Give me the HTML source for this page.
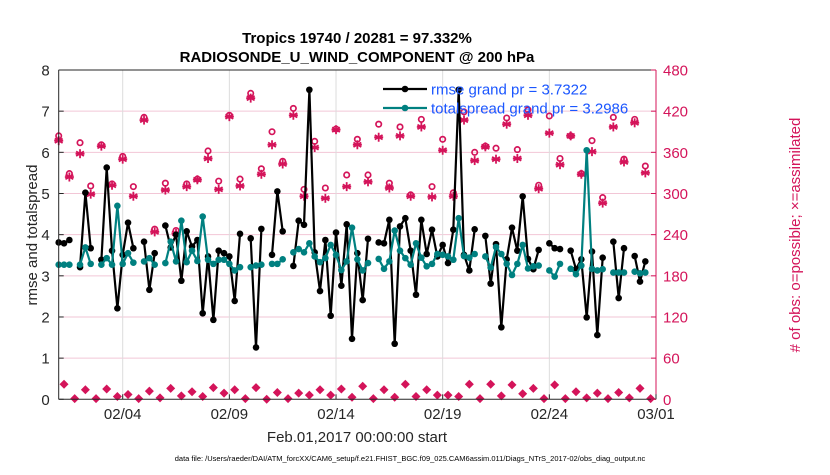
<!DOCTYPE html>
<html><head><meta charset="utf-8"><style>
body{margin:0;background:#fff;width:830px;height:470px;overflow:hidden}
svg text{font-family:"Liberation Sans",Arial,sans-serif}
</style></head><body>
<svg id="chart" width="830" height="470" xmlns="http://www.w3.org/2000/svg"></svg>
<script>
const rmse=[3.81,3.79,3.87,null,3.21,5.02,3.67,null,3.39,5.63,3.61,2.21,3.51,4.29,3.67,null,
3.83,2.66,3.55,null,4.22,3.69,4.0,2.88,4.08,3.71,3.87,2.09,3.47,1.93,3.61,3.55,
3.47,2.39,4.02,null,3.91,1.26,4.14,null,3.51,5.05,4.08,null,3.24,4.34,4.24,7.52,
3.57,2.63,3.87,2.03,4.05,2.76,4.25,1.47,3.55,2.41,3.9,null,3.81,3.79,4.36,1.35,
4.2,4.4,3.61,2.54,4.36,3.53,4.12,3.47,3.75,3.31,4.12,7.52,3.51,3.13,4.13,null,
3.97,2.81,3.77,1.75,3.40,4.17,3.61,4.93,3.41,3.16,3.63,null,3.79,3.67,3.65,null,
3.61,3.16,3.40,1.99,3.59,1.56,3.44,null,3.83,2.46,3.67,null,3.48,2.86,3.35,null];
const spread=[3.27,3.27,3.27,null,3.27,3.69,3.29,null,3.27,3.43,3.27,4.7,3.29,3.55,3.32,null,
3.35,3.43,3.27,null,3.31,3.83,3.35,4.34,3.33,3.61,3.36,4.44,3.39,3.29,3.39,3.39,
3.29,3.13,3.21,null,3.21,3.25,3.27,null,3.29,3.29,3.40,null,3.57,3.65,3.57,3.79,
3.47,3.33,3.43,3.75,3.51,3.14,3.35,4.17,3.40,3.13,3.31,null,3.41,3.17,3.35,4.10,
3.61,3.43,3.27,3.79,3.44,3.23,3.29,3.53,3.51,3.47,3.39,4.40,3.48,3.44,3.53,null,
3.47,3.20,3.70,3.53,3.29,3.02,3.29,3.75,3.18,3.23,3.25,null,3.13,2.98,3.29,null,
3.17,3.04,3.25,6.05,3.17,3.13,3.16,null,3.08,3.08,3.08,null,3.10,3.06,3.08,null];
const possible=[384,22,329,1,374,14,311,1, 371,15,314,4,354,7,310,1, 411,12,248,2,315,16,246,5,
314,11,321,4,362,17,318,9, 414,14,321,1,446,17,336,0, 390,10,347,1,424,9,306,6,
376,14,308,6,394,15,327,3, 379,19,327,1,401,14,315,3, 397,22,298,4,408,14,310,6,
379,6,301,4,419,22,360,1, 369,22,366,5,410,21,364,8, 422,16,312,1,413,21,351,1,
384,11,329,2,377,9,294,1, 411,10,350,2,408,16,340,1];
const assimilated=[377,22,324,1,358,14,299,1, 369,15,312,4,350,7,296,1, 407,12,244,2,305,16,242,5,
310,11,320,4,351,17,306,9, 412,14,311,1,439,17,328,0, 371,10,343,1,414,9,296,6,
367,14,293,6,393,15,310,3, 371,19,317,1,382,14,308,3, 384,22,296,4,397,14,295,6,
363,6,296,4,407,22,348,1, 368,22,350,5,401,21,351,8, 414,16,307,1,388,21,342,1,
384,11,328,2,361,9,286,1, 397,10,346,2,403,16,330,1];
const xTickDays=[3,8,13,18,23,28];
const xTickLabels=["02/04","02/09","02/14","02/19","02/24","03/01"];
const yTicks=[0,1,2,3,4,5,6,7,8];
const y2Ticks=[0,60,120,180,240,300,360,420,480];

const L=58.7,R=656,T=70,B=399.3,CR="#d4145a";
const xS=d=>L+d*(R-L)/28;
const yS=v=>B-v*(B-T)/8;
const y2S=v=>B-v*(B-T)/480;
const svg=document.getElementById('chart');
const NS="http://www.w3.org/2000/svg";
function mk(tag,attrs,parent){const e=document.createElementNS(NS,tag);for(const k in attrs)e.setAttribute(k,attrs[k]);(parent||svg).appendChild(e);return e;}
function txt(s,attrs){const e=mk('text',attrs);e.textContent=s;return e;}

yTicks.forEach(v=>{if(v>0&&v<8){const g=mk('line',{x1:L,x2:R,y1:yS(v),y2:yS(v),stroke:'#f2c6d6','stroke-width':1});

}});
xTickDays.forEach(d=>{const g=mk('line',{x1:xS(d),x2:xS(d),y1:T,y2:B,stroke:'#dcdcdc','stroke-width':1});

});

const gObs=mk('g',{});


possible.forEach((v,i)=>{const x=xS(i*0.25),y=y2S(v);
 if(i%2==0){const c=mk('circle',{cx:x,cy:y,r:2.7,fill:'none',stroke:CR,'stroke-width':1.7},gObs);
 
 }
 else{const p=mk('polygon',{points:`${x},${y-4.5} ${x+4.5},${y} ${x},${y+4.5} ${x-4.5},${y}`,fill:CR},gObs);
 
 }
});
assimilated.forEach((v,i)=>{if(i%2) return;const x=xS(i*0.25),y=y2S(v);
 const g=mk('g',{stroke:CR,'stroke-width':1.8},gObs);
 
 
 [0,60,120].forEach(a=>{const r=a*Math.PI/180,dx=4.5*Math.sin(r),dy=4.5*Math.cos(r);mk('line',{x1:x-dx,y1:y-dy,x2:x+dx,y2:y+dy},g);});
 mk('line',{x1:x-4.5,y1:y,x2:x+4.5,y2:y},g);
});

function series(arr,color,name){
 const g=mk('g',{});
 
 
 let d='',pen=false;
 arr.forEach((v,i)=>{if(v==null){pen=false;return;}d+=(pen?'L':'M')+xS(i*0.25).toFixed(1)+','+yS(v).toFixed(1);pen=true;});
 mk('path',{d:d,fill:'none',stroke:color,'stroke-width':2.2,'stroke-linejoin':'round'},g);
 arr.forEach((v,i)=>{if(v==null)return;const c=mk('circle',{cx:xS(i*0.25),cy:yS(v),r:3.3,fill:color},g);
 
 });
}
series(rmse,'#000','rmse-series');
series(spread,'#008080','totalspread-series');

const ax=mk('g',{});


mk('line',{x1:L,x2:R,y1:T,y2:T,stroke:'#262626'},ax);
mk('line',{x1:L,x2:R,y1:B,y2:B,stroke:'#262626'},ax);
mk('line',{x1:L,x2:L,y1:T,y2:B,stroke:'#262626'},ax);
mk('line',{x1:R,x2:R,y1:T,y2:B,stroke:CR},ax);
yTicks.forEach(v=>{mk('line',{x1:L,x2:L+5,y1:yS(v),y2:yS(v),stroke:'#262626'},ax);
 const t=txt(String(v),{x:L-9,y:yS(v)+5.5,'text-anchor':'end','font-size':15,fill:'#262626'});
 
 });
y2Ticks.forEach(v=>{mk('line',{x1:R-5,x2:R,y1:y2S(v),y2:y2S(v),stroke:CR},ax);
 const t=txt(String(v),{x:R+7,y:y2S(v)+5.5,'font-size':15,fill:CR});
 
 });
xTickDays.forEach((d,i)=>{mk('line',{x1:xS(d),x2:xS(d),y1:B,y2:B-5,stroke:'#262626'},ax);
 const t=txt(xTickLabels[i],{x:xS(d),y:419,'text-anchor':'middle','font-size':15,fill:'#262626'});
 
 });
</script>
<script>
(function(){
const s=document.getElementById('chart');
function t(str,a,name){const e=document.createElementNS("http://www.w3.org/2000/svg",'text');for(const k in a)e.setAttribute(k,a[k]);e.textContent=str;s.appendChild(e);

return e;}
t("Tropics 19740 / 20281 = 97.332%",{x:357,y:43,'text-anchor':'middle','font-size':15,'font-weight':'bold',fill:'#000'},'chart-title');
t("RADIOSONDE_U_WIND_COMPONENT @ 200 hPa",{x:357,y:62,'text-anchor':'middle','font-size':15,'font-weight':'bold',fill:'#000'},'chart-subtitle');
t("rmse and totalspread",{x:0,y:0,transform:'translate(37,235) rotate(-90)','text-anchor':'middle','font-size':15,fill:'#262626'},'y-axis-title');
t("# of obs: o=possible; \u00d7=assimilated",{x:0,y:0,transform:'translate(800,235) rotate(-90)','text-anchor':'middle','font-size':15,fill:CR},'y2-axis-title');
t("Feb.01,2017 00:00:00 start",{x:357,y:442,'text-anchor':'middle','font-size':15,fill:'#262626'},'x-axis-title');
t("data file: /Users/raeder/DAI/ATM_forcXX/CAM6_setup/f.e21.FHIST_BGC.f09_025.CAM6assim.011/Diags_NTrS_2017-02/obs_diag_output.nc",{x:410,y:461,'text-anchor':'middle','font-size':7.5,fill:'#000'},'data-file-note');
const NS="http://www.w3.org/2000/svg";
const lg=document.createElementNS(NS,'g');s.appendChild(lg);


[["rmse grand pr = 3.7322","#000",89],["totalspread grand pr = 3.2986","#008080",108]].forEach(r=>{
 const l=document.createElementNS(NS,'line');l.setAttribute('x1',383);l.setAttribute('x2',427);l.setAttribute('y1',r[2]);l.setAttribute('y2',r[2]);l.setAttribute('stroke',r[1]);l.setAttribute('stroke-width',2.2);lg.appendChild(l);
 const c=document.createElementNS(NS,'circle');c.setAttribute('cx',405);c.setAttribute('cy',r[2]);c.setAttribute('r',3.3);c.setAttribute('fill',r[1]);lg.appendChild(c);
 t(r[0],{x:431,y:r[2]+5.5,'font-size':15,fill:'#1a56ff'},'legend-entry');
});
})();
</script>
</body></html>
